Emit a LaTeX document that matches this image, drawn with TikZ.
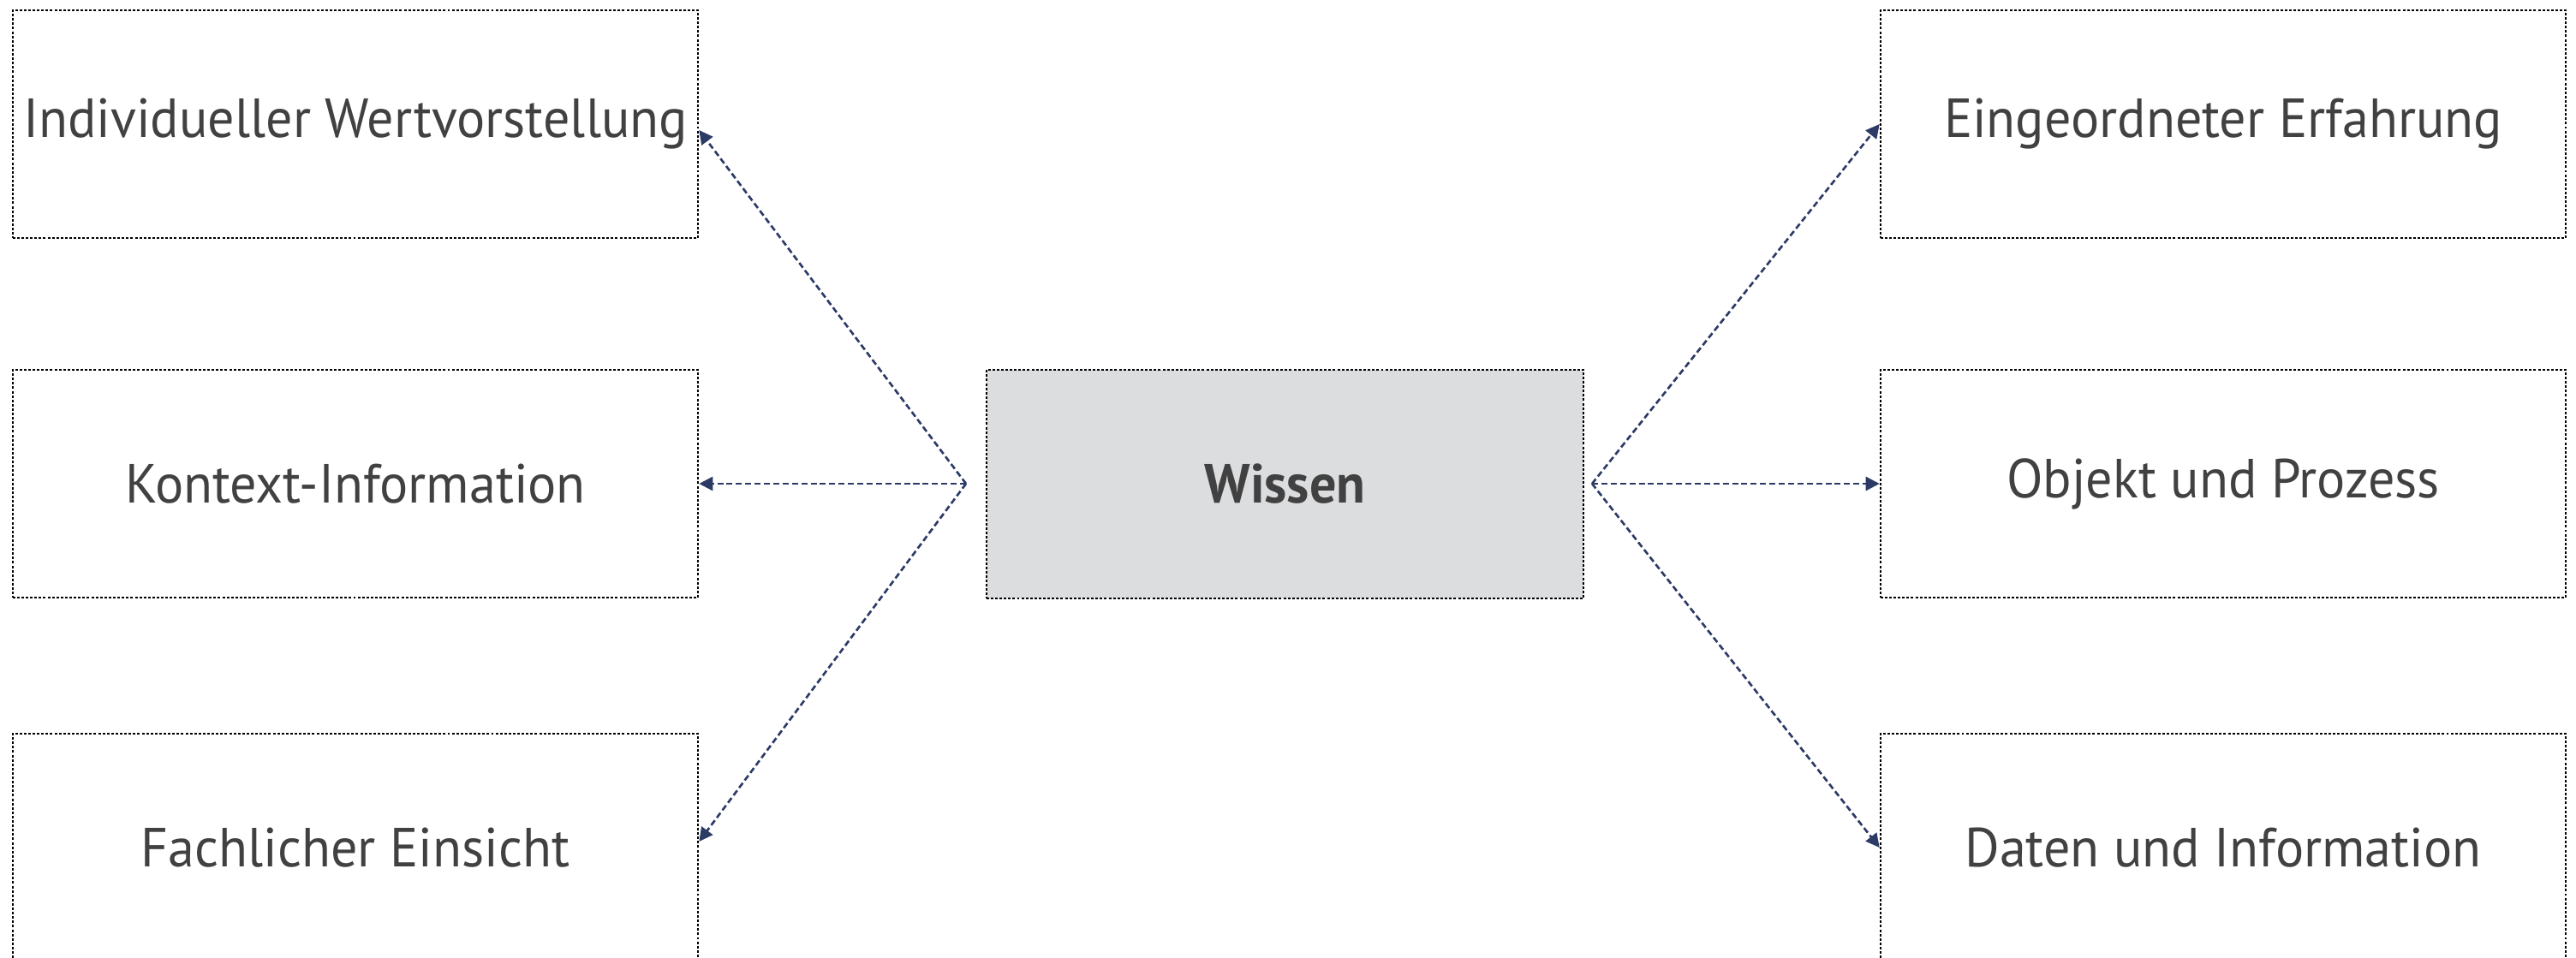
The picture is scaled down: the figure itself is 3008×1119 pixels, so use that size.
\documentclass[tikz,border=0pt]{standalone}
\usepackage{fontspec}
\setmainfont[FakeStretch=0.965]{PT Sans}
\usetikzlibrary{arrows.meta}
\definecolor{txt}{HTML}{414141}
\definecolor{navy}{HTML}{2C3A66}
\definecolor{cfill}{HTML}{DCDDDF}
\begin{document}
\begin{tikzpicture}[x=0.01cm,y=-0.01cm,
  box/.style={draw=black, line width=0.6pt, dash pattern=on 0.85pt off 0.6pt,
    minimum width=8cm, minimum height=2.66cm, inner sep=0pt,
    text=txt, font=\fontsize{18.3pt}{22pt}\selectfont},
  cbox/.style={box, fill=cfill, minimum width=6.97cm, minimum height=2.67cm,
    font=\fontsize{18.3pt}{22pt}\selectfont\bfseries},
  conn/.style={draw=navy, line width=0.75pt, dash pattern=on 2pt off 1.1pt,
    -{Triangle[length=0.16cm,width=0.16cm]}}]
\useasboundingbox (0,0) rectangle (3008,1119);
\node[box] (l1) at (415,145) {Individueller Wertvorstellung};
\node[box] (l2) at (415,565) {Kontext-Information};
\node[box] (l3) at (415,990) {Fachlicher Einsicht};
\node[cbox] (c) at (1500.5,565.5) {Wissen};
\node[box] (r1) at (2596,145) {Eingeordneter Erfahrung};
\node[box] (r2) at (2596,565) {Objekt und Prozess};
\node[box] (r3) at (2596,990) {Daten und Information};
\coordinate (hl) at (1128,565);
\coordinate (hr) at (1859,565);
\draw[conn] (hl) -- (l1.-1.1);
\draw[conn] (hl) -- (l2.east);
\draw[conn] (hl) -- (l3.1.7);
\draw[conn] (hr) -- (r1.west);
\draw[conn] (hr) -- (r2.west);
\draw[conn] (hr) -- (r3.west);
\end{tikzpicture}
\end{document}
